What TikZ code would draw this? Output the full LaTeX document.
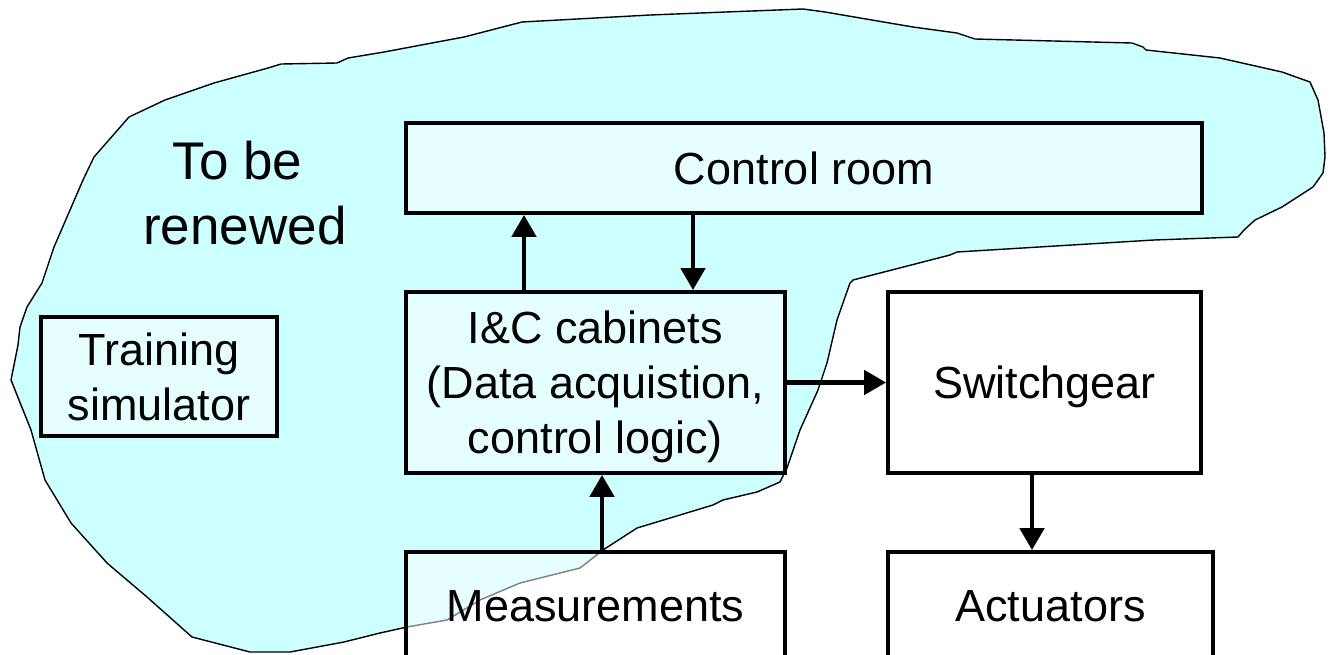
\documentclass[tikz,border=0pt]{standalone}
\usepackage{fontspec}
\setmainfont{Liberation Sans}
\usetikzlibrary{arrows.meta}
\definecolor{blobcol}{HTML}{CCFFFF}
\begin{document}
\begin{tikzpicture}[x=1pt,y=-1pt,
  box/.style={draw=black, line width=3.8pt, fill=white, fill opacity=0.5, text opacity=1,
    inner sep=0pt, font=\fontsize{45}{55}\selectfont, align=center, text depth=0pt},
  arr/.style={line width=4.8pt, -{Triangle[width=24pt,length=22pt]}},
  blob/.style={draw=black, line width=1.4pt, fill=blobcol, line join=round},
  big/.style={inner sep=0pt, font=\fontsize{53}{65}\selectfont, align=center}]
\useasboundingbox (0,0) rectangle (1331,654);
\clip (0,0) rectangle (1331,654);
\path[blob] (129,117) -- (165,100) -- (214,83) -- (268,68) -- (281,64) -- (337,63) -- (348,58)
  -- (384,52) -- (464,37) -- (522,22) -- (650,15) -- (700,13) -- (803,9) -- (825,12) -- (913,27)
  -- (957,33) -- (975,39) -- (1132,43) -- (1143,47) -- (1146,50) -- (1220,58) -- (1282,72)
  -- (1310,82) -- (1318,100) -- (1324,133) -- (1325,157) -- (1323,173) -- (1313,187) -- (1282,207)
  -- (1255,220) -- (1244,230) -- (1238,237) -- (1154,240) -- (957,252) -- (950,255) -- (853,280)
  -- (850,283) -- (837,320) -- (827,363) -- (818,390) -- (800,430) -- (787,468) -- (780,482)
  -- (757,492) -- (723,500) -- (713,505) -- (680,515) -- (637,528) -- (603,550) -- (580,568)
  -- (520,583) -- (480,600) -- (447,620) -- (407,627) -- (380,633) -- (344,642) -- (290,652)
  -- (250,652) -- (192,637) -- (147,597) -- (107,563) -- (71,523) -- (45,480) -- (31,430)
  -- (11,380) -- (18,345) -- (20,327) -- (27,307) -- (42,283) -- (54,247) -- (67,217) -- (83,180)
  -- (94,157) -- cycle;
\node[big] (tbr) at (245,193) {To be\hspace*{0.28em}\\renewed};
\node[box, minimum width=796pt, minimum height=90pt] (cr) at (804,168) {Control room};
\node[box, minimum width=379pt, minimum height=181pt] (ic) at (595.5,382.5) {I\&C cabinets\\(Data acquistion,\\control logic)};
\node[box, minimum width=313pt, minimum height=181pt] (sw) at (1044.5,382.5) {Switchgear};
\node[box, minimum width=379pt, minimum height=108pt] (me) at (595.5,606) {Measurements};
\node[box, minimum width=325pt, minimum height=108pt] (ac) at (1050.5,606) {Actuators};
\node[box, minimum width=236pt, minimum height=119pt] (ts) at (159,376.5) {Training\\simulator};
\coordinate (xa) at (524,0);
\coordinate (xb) at (693,0);
\coordinate (xc) at (602,0);
\coordinate (xd) at (1032,0);
\draw[arr] (ic.north -| xa) -- (cr.south -| xa);
\draw[arr] (cr.south -| xb) -- (ic.north -| xb);
\draw[arr] (ic.east) -- (sw.west);
\draw[arr] (me.north -| xc) -- (ic.south -| xc);
\draw[arr] (sw.south -| xd) -- (ac.north -| xd);
\end{tikzpicture}
\end{document}
